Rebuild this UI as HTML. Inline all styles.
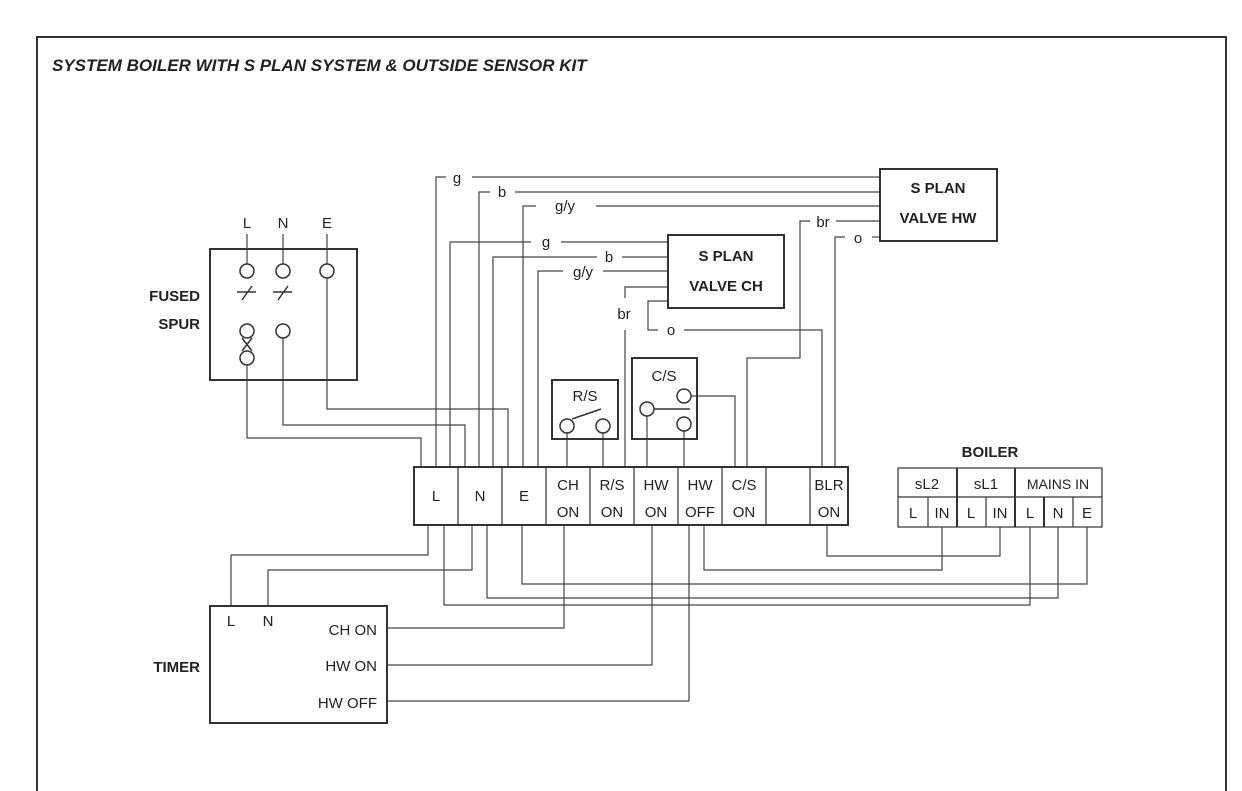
<!DOCTYPE html>
<html><head><meta charset="utf-8"><style>
html,body{margin:0;padding:0;background:#fff;width:1242px;height:791px;overflow:hidden;}
svg{display:block;}
text{font-family:"Liberation Sans",sans-serif;fill:#222;}
</style></head><body>
<svg width="1242" height="791" viewBox="0 0 1242 791" xmlns="http://www.w3.org/2000/svg">
<path d="M37,791 L37,37 L1226,37 L1226,791" fill="none" stroke="#333" stroke-width="2"/>
<text x="52" y="71" font-size="17" font-weight="bold" font-style="italic">SYSTEM BOILER WITH S PLAN SYSTEM  &amp; OUTSIDE SENSOR KIT</text>

<g fill="none" stroke="#444" stroke-width="1.2">
<polyline points="247,365 247,438 421,438 421,467"/>
<polyline points="283,338 283,425 465,425 465,467"/>
<polyline points="327,278 327,409 508,409 508,467"/>
<line x1="247" y1="234" x2="247" y2="264"/>
<line x1="283" y1="234" x2="283" y2="264"/>
<line x1="327" y1="234" x2="327" y2="264"/>
<polyline points="436,467 436,177 446,177"/><line x1="472" y1="177" x2="880" y2="177"/>
<polyline points="479,467 479,192 490,192"/><line x1="515" y1="192" x2="880" y2="192"/>
<polyline points="523,467 523,206 536,206"/><line x1="596" y1="206" x2="880" y2="206"/>
<polyline points="747,467 747,358 800,358 800,221 810,221"/><line x1="836" y1="221" x2="880" y2="221"/>
<polyline points="835,467 835,237 845,237"/><line x1="872" y1="237" x2="880" y2="237"/>
<polyline points="450,467 450,242 531,242"/><line x1="561" y1="242" x2="668" y2="242"/>
<polyline points="493,467 493,257 597,257"/><line x1="622" y1="257" x2="668" y2="257"/>
<polyline points="538,467 538,271 563,271"/><line x1="603" y1="271" x2="668" y2="271"/>
<polyline points="625,467 625,330"/><polyline points="625,298 625,287 668,287"/>
<polyline points="668,301 648,301 648,330 658,330"/><polyline points="684,330 822,330 822,467"/>
<line x1="567" y1="432" x2="567" y2="467"/>
<line x1="603" y1="432" x2="603" y2="467"/>
<line x1="647" y1="416" x2="647" y2="467"/>
<line x1="684" y1="430" x2="684" y2="467"/>
<polyline points="691,396 735,396 735,467"/>
<polyline points="428,525 428,555 231,555 231,606"/>
<polyline points="472,525 472,570 268,570 268,606"/>
<polyline points="444,525 444,605 1030,605 1030,527"/>
<polyline points="487,525 487,598 1058,598 1058,527"/>
<polyline points="522,525 522,584 1087,584 1087,527"/>
<polyline points="564,525 564,628 387,628"/>
<polyline points="652,525 652,665 387,665"/>
<polyline points="689,525 689,701 387,701"/>
<polyline points="704,525 704,570 942,570 942,527"/>
<polyline points="827,525 827,556 1000,556 1000,527"/>
</g>

<g fill="none" stroke="#333" stroke-width="2">
<rect x="210" y="249" width="147" height="131"/>
<rect x="880" y="169" width="117" height="72"/>
<rect x="668" y="235" width="116" height="73"/>
<rect x="552" y="380" width="66" height="59"/>
<rect x="632" y="358" width="65" height="81"/>
<rect x="414" y="467" width="434" height="58"/>
<rect x="210" y="606" width="177" height="117"/>
</g>
<g fill="none" stroke="#333" stroke-width="1.5">
<circle cx="247" cy="271" r="7"/><circle cx="283" cy="271" r="7"/><circle cx="327" cy="271" r="7"/>
<circle cx="247" cy="331" r="7"/><circle cx="283" cy="331" r="7"/><circle cx="247" cy="358" r="7"/>
<line x1="242" y1="300" x2="252" y2="286"/><line x1="237" y1="292" x2="256" y2="292"/>
<line x1="278" y1="300" x2="288" y2="286"/><line x1="273" y1="292" x2="292" y2="292"/>
<line x1="242" y1="338" x2="252" y2="351"/><line x1="252" y1="338" x2="242" y2="351"/>
<circle cx="567" cy="426" r="7"/><circle cx="603" cy="426" r="7"/>
<line x1="572" y1="419" x2="601" y2="409"/>
<circle cx="647" cy="409" r="7"/><circle cx="684" cy="396" r="7"/><circle cx="684" cy="424" r="7"/>
<line x1="654" y1="409" x2="690" y2="409"/>
</g>
<g stroke="#333" stroke-width="1.2">
<line x1="458" y1="467" x2="458" y2="525"/><line x1="502" y1="467" x2="502" y2="525"/>
<line x1="546" y1="467" x2="546" y2="525"/><line x1="590" y1="467" x2="590" y2="525"/>
<line x1="634" y1="467" x2="634" y2="525"/><line x1="678" y1="467" x2="678" y2="525"/>
<line x1="722" y1="467" x2="722" y2="525"/><line x1="766" y1="467" x2="766" y2="525"/>
<line x1="810" y1="467" x2="810" y2="525"/>
<rect x="898" y="468" width="204" height="59" fill="none"/>
<line x1="898" y1="497" x2="1102" y2="497"/>
<line x1="957" y1="468" x2="957" y2="527" stroke-width="2"/><line x1="1015" y1="468" x2="1015" y2="527" stroke-width="2"/>
<line x1="928" y1="497" x2="928" y2="527"/><line x1="986" y1="497" x2="986" y2="527"/>
<line x1="1044" y1="497" x2="1044" y2="527" stroke-width="2"/><line x1="1073" y1="497" x2="1073" y2="527"/>
</g>

<g font-size="15" text-anchor="middle">
<text x="247" y="228">L</text><text x="283" y="228">N</text><text x="327" y="228">E</text>
<text x="457" y="183">g</text><text x="502" y="197">b</text><text x="565" y="211">g/y</text>
<text x="823" y="227">br</text><text x="858" y="243">o</text>
<text x="546" y="247">g</text><text x="609" y="262">b</text><text x="583" y="277">g/y</text>
<text x="624" y="319">br</text><text x="671" y="335">o</text>
<text x="585" y="401">R/S</text><text x="664" y="381">C/S</text>
<text x="436" y="501">L</text><text x="480" y="501">N</text><text x="524" y="501">E</text>
<text x="568" y="490">CH</text><text x="568" y="517">ON</text>
<text x="612" y="490">R/S</text><text x="612" y="517">ON</text>
<text x="656" y="490">HW</text><text x="656" y="517">ON</text>
<text x="700" y="490">HW</text><text x="700" y="517">OFF</text>
<text x="744" y="490">C/S</text><text x="744" y="517">ON</text>
<text x="829" y="490">BLR</text><text x="829" y="517">ON</text>
<text x="927" y="489">sL2</text><text x="986" y="489">sL1</text><text x="1058" y="489" font-size="14">MAINS IN</text>
<text x="913" y="518">L</text><text x="942" y="518">IN</text><text x="971" y="518">L</text><text x="1000" y="518">IN</text>
<text x="1030" y="518">L</text><text x="1058" y="518">N</text><text x="1087" y="518">E</text>
<text x="231" y="626">L</text><text x="268" y="626">N</text>
</g>
<g font-size="15" text-anchor="end">
<text x="377" y="635">CH ON</text><text x="377" y="671">HW ON</text><text x="377" y="708">HW OFF</text>
</g>
<g font-size="15" font-weight="bold" text-anchor="middle">
<text x="938" y="193">S PLAN</text><text x="938" y="223">VALVE HW</text>
<text x="726" y="261">S PLAN</text><text x="726" y="291">VALVE CH</text>
<text x="990" y="457">BOILER</text>
</g>
<g font-size="15" font-weight="bold" text-anchor="end">
<text x="200" y="301">FUSED</text><text x="200" y="329">SPUR</text>
<text x="200" y="672">TIMER</text>
</g>
</svg>
</body></html>
